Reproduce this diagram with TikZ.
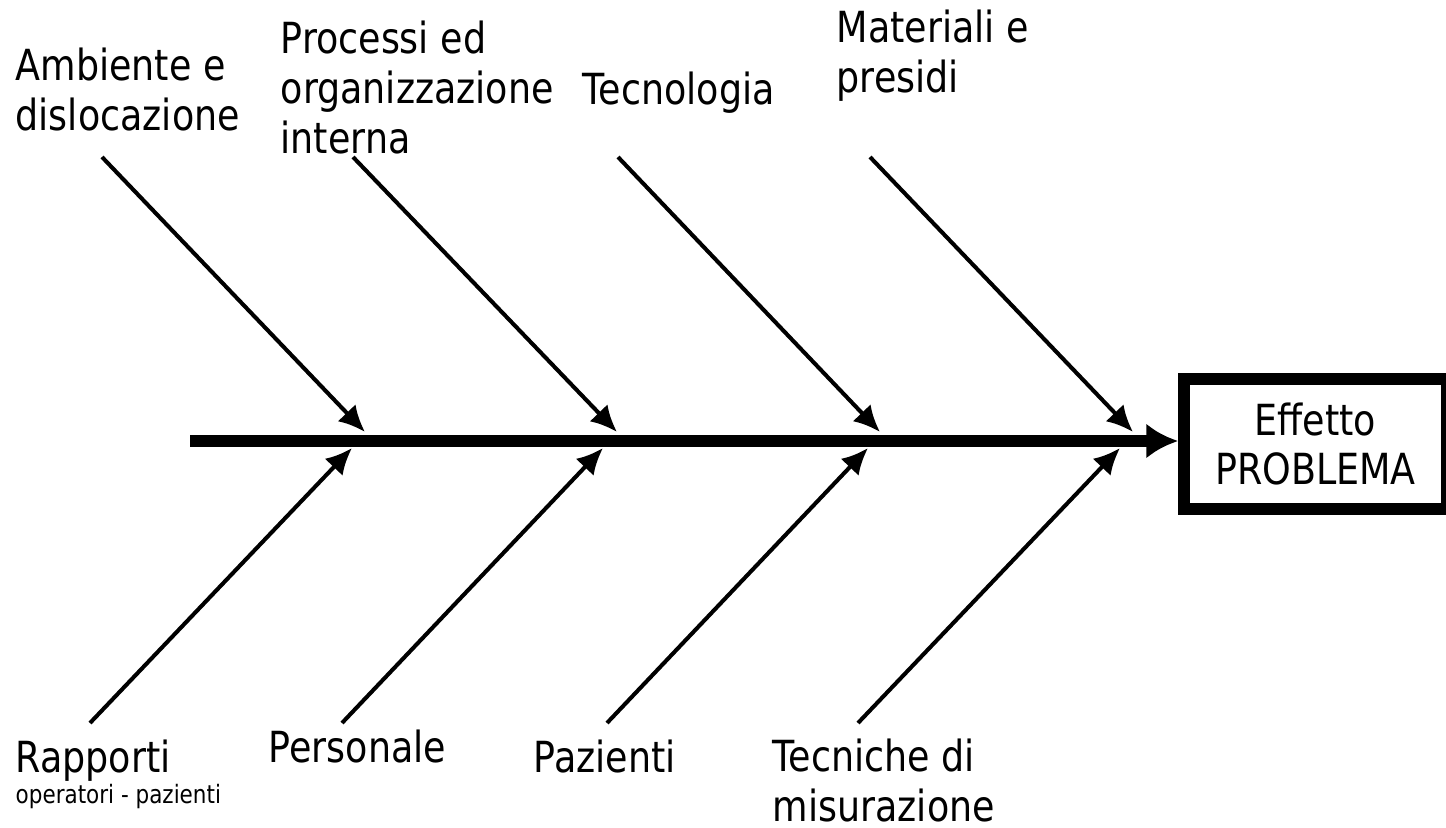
\documentclass[tikz,border=0pt]{standalone}
\usepackage{fontspec}
\setmainfont[FakeStretch=0.85]{DejaVu Sans}
\usetikzlibrary{arrows.meta}
\begin{document}
\begin{tikzpicture}[
  bone/.style={line width=1.15pt,-{Latex[length=7.5pt,width=7pt]}},
  spine/.style={line width=3.4pt,-{Latex[length=9pt,width=10pt]}},
  lbl/.style={anchor=base west,inner sep=0pt,align=left,font=\fontsize{12.2}{14.2}\selectfont},
  effbox/.style={draw,line width=0.12cm,minimum width=2.63cm,minimum height=1.30cm,align=center,font=\fontsize{12.2}{14.2}\selectfont}]
\useasboundingbox (0,0) rectangle (14.46,8.27);
\pgfmathsetmacro{\ys}{3.86}
\pgfmathsetmacro{\yt}{3.95}
\pgfmathsetmacro{\yb}{3.79}
\pgfmathsetmacro{\ya}{6.70}
\pgfmathsetmacro{\yc}{1.04}
% effect and spine
\node[effbox](eff) at (13.155,3.83){Effetto\\PROBLEMA};
\coordinate (tail) at (1.90,\ys);
\draw[spine](tail)--(tail -| eff.west);
% bones from above
\coordinate (a1) at (1.02,\ya); \coordinate (t1) at (3.65,\yt);
\coordinate (a2) at (3.53,\ya); \coordinate (t2) at (6.17,\yt);
\coordinate (a3) at (6.18,\ya); \coordinate (t3) at (8.80,\yt);
\coordinate (a4) at (8.70,\ya); \coordinate (t4) at (11.33,\yt);
\draw[bone](a1)--(t1);
\draw[bone](a2)--(t2);
\draw[bone](a3)--(t3);
\draw[bone](a4)--(t4);
% bones from below
\coordinate (c1) at (0.90,\yc); \coordinate (b1) at (3.52,\yb);
\coordinate (c2) at (3.42,\yc); \coordinate (b2) at (6.03,\yb);
\coordinate (c3) at (6.07,\yc); \coordinate (b3) at (8.68,\yb);
\coordinate (c4) at (8.58,\yc); \coordinate (b4) at (11.20,\yb);
\draw[bone](c1)--(b1);
\draw[bone](c2)--(b2);
\draw[bone](c3)--(b3);
\draw[bone](c4)--(b4);
% causes (base = last line)
\node[lbl](amb) at (0.15,6.97){Ambiente e\\dislocazione};
\node[lbl](proc) at (2.80,6.74){Processi ed\\organizzazione\\interna};
\node[lbl](tecn) at (5.82,7.23){Tecnologia};
\node[lbl](mat) at (8.36,7.35){Materiali e\\presidi};
\node[lbl](rapp) at (0.15,0.24){Rapporti\\[-5.4pt]{\fontsize{7.2}{8.6}\selectfont operatori - pazienti}};
\node[lbl](pers) at (2.68,0.65){Personale};
\node[lbl](paz) at (5.33,0.55){Pazienti};
\node[lbl](misu) at (7.72,0.06){Tecniche di\\misurazione};
\end{tikzpicture}
\end{document}
